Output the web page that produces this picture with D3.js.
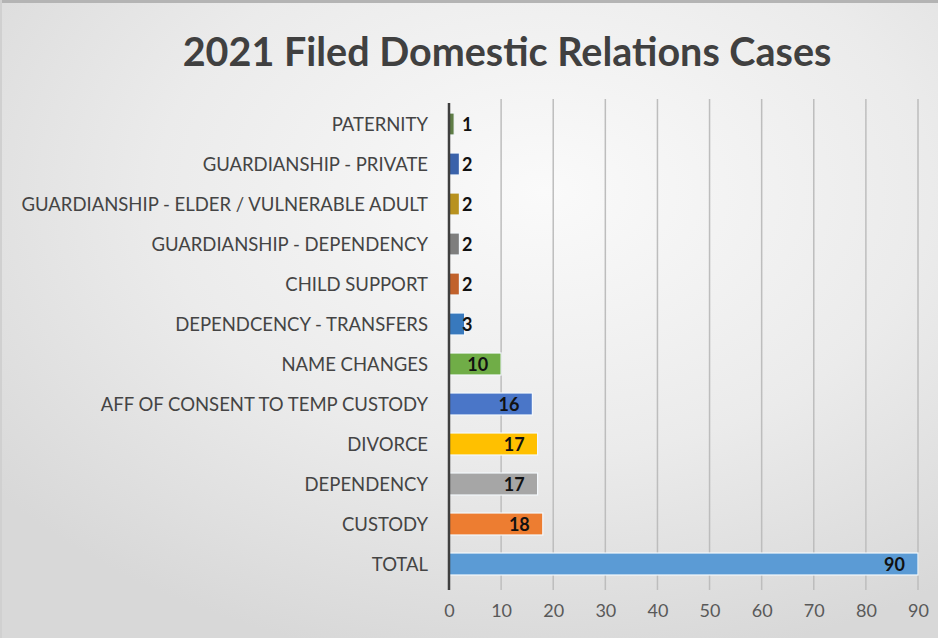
<!DOCTYPE html>
<html>
<head>
<meta charset="utf-8">
<script src="https://cdn.jsdelivr.net/npm/d3@7/dist/d3.min.js"></script>
<style>
  html, body { margin: 0; padding: 0; background: #e8e8e8; }
  svg { display: block; }
</style>
</head>
<body>
<svg id="chart" width="938" height="638"></svg>
<script>
// Filed domestic relations cases, 2021 (top row first)
const categories = [
  "PATERNITY",
  "GUARDIANSHIP - PRIVATE",
  "GUARDIANSHIP - ELDER / VULNERABLE ADULT",
  "GUARDIANSHIP - DEPENDENCY",
  "CHILD SUPPORT",
  "DEPENDCENCY - TRANSFERS",
  "NAME CHANGES",
  "AFF OF CONSENT TO TEMP CUSTODY",
  "DIVORCE",
  "DEPENDENCY",
  "CUSTODY",
  "TOTAL"
];
const caseCounts = [1, 2, 2, 2, 2, 3, 10, 16, 17, 17, 18, 90];
const barColors = [
  "#5f7d46", "#3a62aa", "#b8921f", "#7e7e7e", "#c1622c", "#3879bd",
  "#70ad47", "#4a76c8", "#ffc000", "#a6a6a6", "#ed7d31", "#5b9bd5"
];
const xTicks = [0, 10, 20, 30, 40, 50, 60, 70, 80, 90];
const titleText = "2021 Filed Domestic Relations Cases";

const W = 938, H = 638;
const FONT = "Lato, 'Open Sans', sans-serif";
const svg = d3.select("#chart");

// Background: soft light-gray radial wash
const defs = svg.append("defs");
const bg = defs.append("radialGradient").attr("id", "bg")
  .attr("cx", "58%").attr("cy", "30%").attr("r", "75%");
bg.append("stop").attr("offset", "0%").attr("stop-color", "#fafafa");
bg.append("stop").attr("offset", "55%").attr("stop-color", "#ebebeb");
bg.append("stop").attr("offset", "100%").attr("stop-color", "#d8d8d8");
svg.append("rect").attr("width", W).attr("height", H).attr("fill", "url(#bg)");
svg.append("rect").attr("width", W).attr("height", 3).attr("fill", "#b4b4b4");
svg.append("rect").attr("width", 2).attr("height", H).attr("fill", "#d0d0d0");

// Title
svg.append("text")
  .attr("x", 507).attr("y", 66)
  .attr("text-anchor", "middle")
  .attr("font-family", FONT)
  .attr("font-weight", 700)
  .attr("font-size", 39.5)
  .attr("fill", "#404040")
  .text(titleText);

// Scales
const x = d3.scaleLinear().domain([0, 90]).range([449, 918]);
const y = d3.scaleBand().domain(categories).range([104, 584]).paddingInner(0.45).paddingOuter(0.225);

// Vertical gridlines (extend slightly below plot as tick marks)
svg.append("g").selectAll("line").data(xTicks.filter(t => t > 0)).join("line")
  .attr("x1", d => x(d)).attr("x2", d => x(d))
  .attr("y1", 99).attr("y2", 590)
  .attr("stroke", "#bdbdbd").attr("stroke-width", 1.5);

// Bars
svg.append("g").selectAll("rect").data(categories).join("rect")
  .attr("x", x(0))
  .attr("y", d => y(d))
  .attr("width", (d, i) => x(caseCounts[i]) - x(0))
  .attr("height", y.bandwidth())
  .attr("fill", (d, i) => barColors[i])
  .attr("stroke", "#f4f8fc").attr("stroke-width", 1.2);

// Vertical axis line
svg.append("line")
  .attr("x1", x(0)).attr("x2", x(0))
  .attr("y1", 103).attr("y2", 590)
  .attr("stroke", "#3f3f3f").attr("stroke-width", 2.5);

// Category labels
svg.append("g").selectAll("text").data(categories).join("text")
  .attr("x", 428)
  .attr("y", d => y(d) + y.bandwidth() / 2)
  .attr("dy", "0.36em")
  .attr("text-anchor", "end")
  .attr("font-family", FONT)
  .attr("font-size", 18.5)
  .attr("fill", "#444")
  .text(d => d);

// X axis tick labels
const xAxis = d3.axisBottom(x).tickValues(xTicks).tickSize(0).tickPadding(0);
const gx = svg.append("g").attr("transform", "translate(0,604)").call(xAxis);
gx.select(".domain").remove();
gx.selectAll("text")
  .attr("dy", "0.71em")
  .attr("font-family", FONT)
  .attr("font-size", 18)
  .attr("fill", "#595959");

// Value labels: inside the bar end, or just past the axis for short bars
const valueLabels = svg.append("g").selectAll("text").data(categories).join("text")
  .attr("y", d => y(d) + y.bandwidth() / 2)
  .attr("dy", "0.37em")
  .attr("font-family", FONT)
  .attr("font-weight", 700)
  .attr("font-size", 18)
  .attr("fill", "#111")
  .text((d, i) => caseCounts[i]);
valueLabels.each(function(d, i) {
  const w = this.getComputedTextLength();
  const left = Math.max(x(caseCounts[i]) - 13 - w, x(0) + 13);
  d3.select(this).attr("x", left);
});
</script>
</body>
</html>
